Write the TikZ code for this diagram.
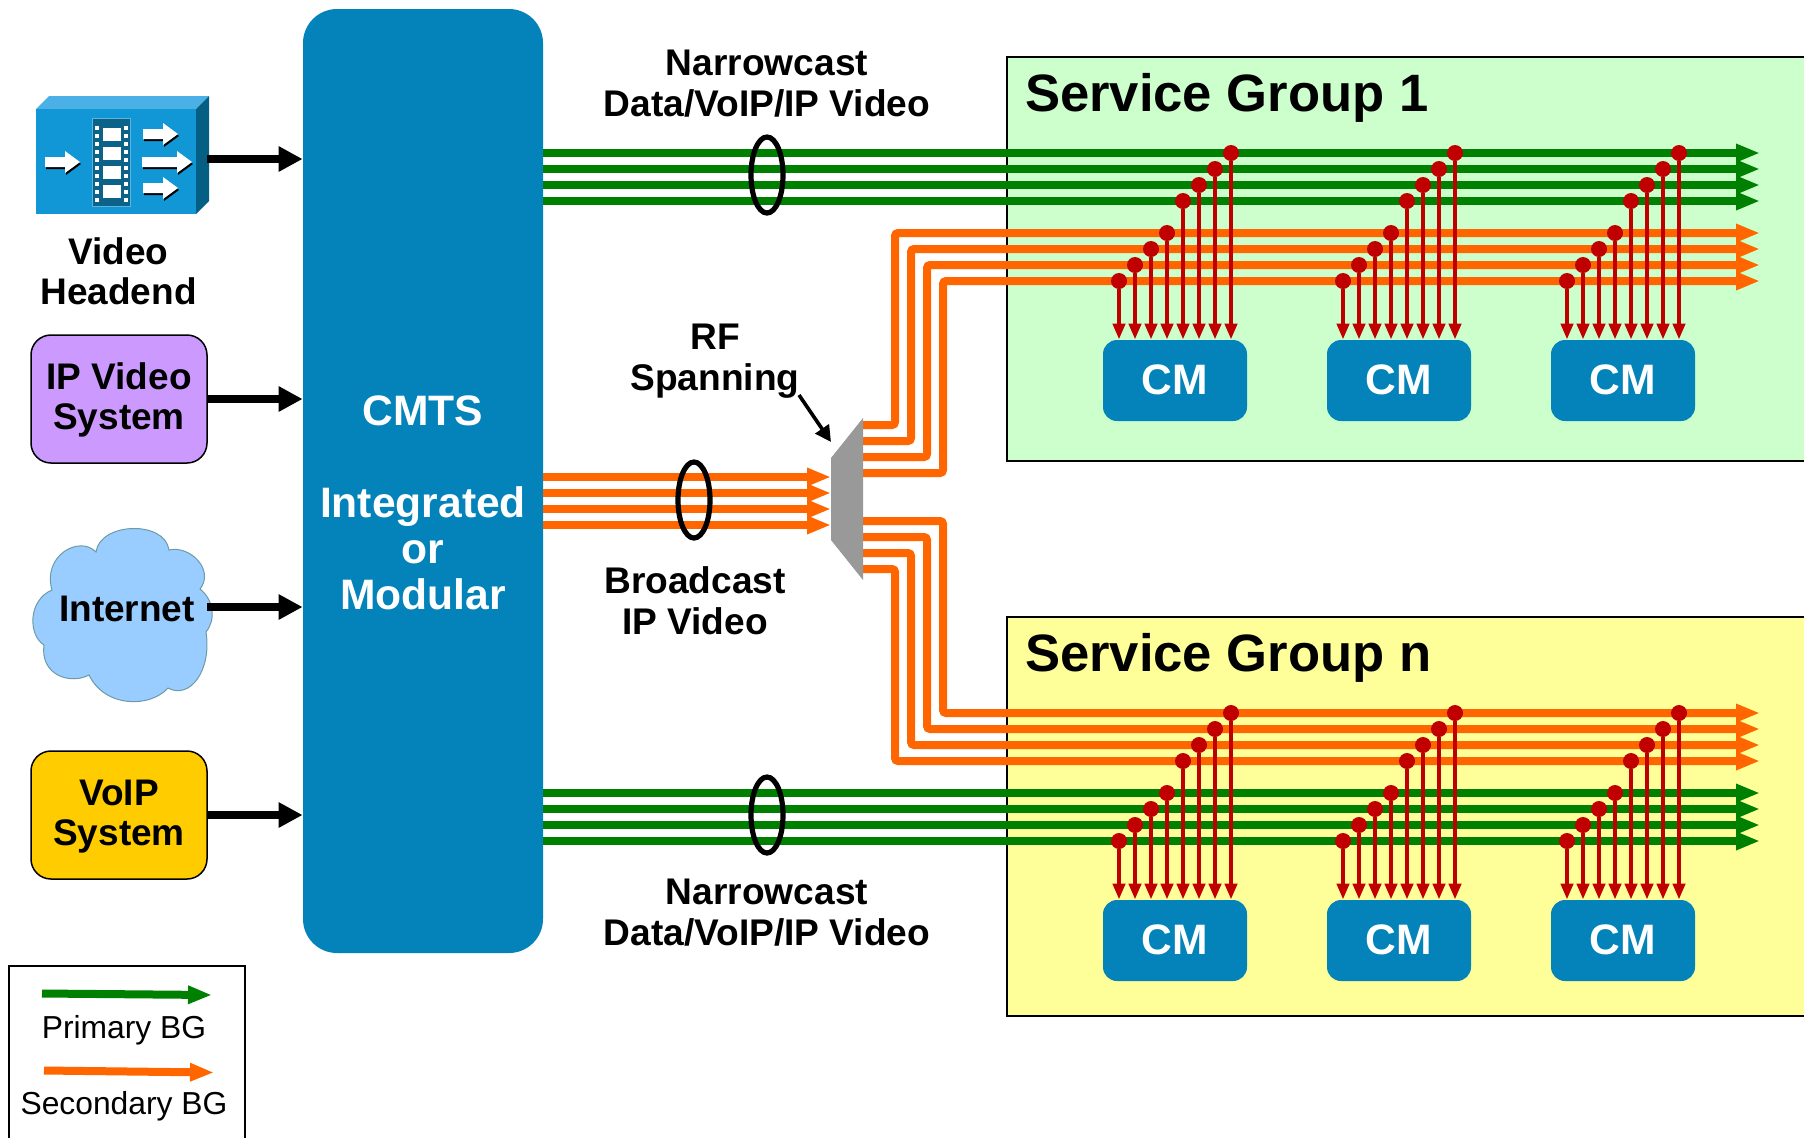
\documentclass[tikz,border=0pt]{standalone}
\usepackage{fontspec}
\setmainfont{Liberation Sans}
\usetikzlibrary{arrows.meta}
\definecolor{cmtsblue}{HTML}{0383B9}
\definecolor{busgreen}{HTML}{008000}
\definecolor{busorange}{HTML}{FF6600}
\definecolor{tapred}{HTML}{C00000}
\tikzset{
  greenbus/.style={line width=4pt,busgreen,-{Triangle[length=12pt,width=8.5pt]}},
  orangebus/.style={line width=4pt,busorange,rounded corners=1.5pt,-{Triangle[length=12pt,width=8.5pt]}},
  feed/.style={line width=4pt,black,-{Triangle[length=12pt,width=12pt]}},
  tap/.style={line width=2pt,tapred,-{Triangle[length=8pt,width=6pt]}},
  tapdot/.style={circle,fill=tapred,minimum size=8pt,inner sep=0pt},
  cmbox/.style={fill=cmtsblue,rounded corners=7pt,minimum width=72pt,minimum height=40.5pt,text=white,font=\bfseries\fontsize{21.3}{23}\selectfont},
  srcbox/.style={draw=black,line width=0.75pt,rounded corners=10pt,minimum width=88pt,minimum height=64pt,align=center,font=\bfseries\fontsize{18.5}{20}\selectfont},
  lbl/.style={align=center,font=\bfseries\fontsize{18.55}{20.5}\selectfont},
  grouplbl/.style={anchor=west,font=\bfseries\fontsize{26.3}{28}\selectfont},
  bundle/.style={draw=black,line width=2.6pt},
  legendlbl/.style={font=\fontsize{15.9}{17}\selectfont}
}
\begin{document}
\begin{tikzpicture}[x=0.5pt,y=-0.5pt]
  \useasboundingbox (0,0) rectangle (1804,1137);
  % service groups
  \draw[line width=0.75pt,fill={rgb,255:red,204;green,255;blue,204}] (1007,57) rectangle (1815,461);
  \draw[line width=0.75pt,fill={rgb,255:red,255;green,255;blue,153}] (1007,617) rectangle (1815,1016);
  \node[grouplbl] (sg1) at (1018,98) {Service Group 1};
  \node[grouplbl] (sgn) at (1018,658) {Service Group n};
  % cmts
  \node[fill=cmtsblue,rounded corners=17pt,minimum width=120pt,minimum height=472pt] (cmts) at (423,481) {};
  \node[align=center,text=white,font=\bfseries\fontsize{21.3}{23}\selectfont] (cmtstext) at (423,502.5) {CMTS\\[23pt]Integrated\\or\\Modular};
  % video headend
  \fill[fill={rgb,255:red,75;green,176;blue,230}] (36,109) -- (49,96) -- (209,96) -- (196,109) -- cycle;
  \fill[fill={rgb,255:red,5;green,95;blue,133}] (196,109) -- (209,96) -- (209,201) -- (196,214) -- cycle;
  \node[fill={rgb,255:red,17;green,150;blue,214},minimum width=80pt,minimum height=52.5pt] (headend) at (116,161.5) {};
  \draw[fill={rgb,255:red,12;green,98;blue,136},draw={rgb,255:red,90;green,180;blue,220},line width=0.5pt] (92,118) rectangle (130,206);
  \foreach \y in {128,147,166,185} \fill[white] (103,\y) rectangle (121,{\y+13});
  \foreach \y in {126,134,142,150,158,166,174,182,190,198} {
    \fill[white] (95,\y) rectangle (99,{\y+4});
    \fill[white] (124,\y) rectangle (128,{\y+4});
  }
  \foreach \xa/\xb/\ya in {45/80/162,143/178/134,142/192/162,143/178/188} {
    \fill[black] ({\xa+1},{\ya-3}) -- ({\xb-14},{\ya-3}) -- ({\xb-14},{\ya-9}) -- ({\xb+1},{\ya+2}) -- ({\xb-14},{\ya+13}) -- ({\xb-14},{\ya+7}) -- ({\xa+1},{\ya+7}) -- cycle;
    \fill[white] (\xa,{\ya-5}) -- ({\xb-15},{\ya-5}) -- ({\xb-15},{\ya-11}) -- (\xb,\ya) -- ({\xb-15},{\ya+11}) -- ({\xb-15},{\ya+5}) -- (\xa,{\ya+5}) -- cycle;
  }
  \node[align=center,font=\bfseries\fontsize{18.5}{20}\selectfont] (headendlbl) at (118.5,271) {Video\\Headend};
  % sources
  \node[srcbox,fill={rgb,255:red,204;green,153;blue,255}] (ipvideo) at (119,399) {\rule{0pt}{14.5pt}IP Video\\System};
  \node[srcbox,fill={rgb,255:red,255;green,204;blue,0}] (voip) at (119,815) {\rule{0pt}{14.5pt}VoIP\\System};
  \draw[fill={rgb,255:red,153;green,204;blue,255},draw={rgb,255:red,108;green,154;blue,168},line width=0.5pt]
    (96,552) .. controls (100,522) and (165,520) .. (169,550)
    .. controls (190,545) and (215,570) .. (200,589)
    .. controls (214,600) and (216,620) .. (206,632)
    .. controls (212,670) and (190,700) .. (168,688)
    .. controls (150,708) and (105,708) .. (89,675)
    .. controls (70,685) and (40,675) .. (44,645)
    .. controls (28,635) and (28,600) .. (52,590)
    .. controls (42,555) and (80,535) .. (96,552) -- cycle;
  \node[font=\bfseries\fontsize{18.5}{20}\selectfont] (internet) at (127,609) {Internet};
  \coordinate (headendout) at (207,159);
  \coordinate (internetout) at (207,607);
  \draw[feed] (headendout) -- (headendout -| cmts.west);
  \draw[feed] (ipvideo.east) -- (ipvideo.east -| cmts.west);
  \draw[feed] (internetout) -- (internetout -| cmts.west);
  \draw[feed] (voip.east) -- (voip.east -| cmts.west);
  % bus lines
  \coordinate (busend) at (1760,0);
  \coordinate (splleft) at (831,0);
  \coordinate (splright) at (863,0);
  \foreach \y in {153,169,185,201,793,809,825,841}
    \draw[greenbus] (cmts.east |- 0,\y) -- (busend |- 0,\y);
  \foreach \y in {477,493,509,525}
    \draw[orangebus] (cmts.east |- 0,\y) -- (splleft |- 0,\y);
  \foreach \ya/\xa/\yb in {425/895/233,441/911/249,457/927/265,473/943/281,521/943/713,537/927/729,553/911/745,569/895/761}
    \draw[orangebus] (splright |- 0,\ya) -- (\xa,\ya) -- (\xa,\yb) -- (busend |- 0,\yb);
  \fill[fill={rgb,255:red,153;green,153;blue,153}] (831,458) -- (863,418) -- (863,580) -- (831,540) -- cycle;
  % bundles
  \draw[bundle] (767,175) ellipse [x radius=16,y radius=38];
  \draw[bundle] (694,500) ellipse [x radius=16,y radius=38];
  \draw[bundle] (767,815) ellipse [x radius=16,y radius=38];
  % cable modems
  \foreach \g/\xs in {a/0,b/224,c/448} {
    \node[cmbox] (cmtop\g) at ({1175+\xs},380.5) {\raisebox{1pt}{CM}};
    \node[cmbox] (cmbot\g) at ({1175+\xs},940.5) {\raisebox{1pt}{CM}};
    \foreach \i/\yt/\yb in {0/281/841,1/265/825,2/249/809,3/233/793,4/201/761,5/185/745,6/169/729,7/153/713} {
      \node[tapdot] (dottop\g\i) at ({1119+\xs+16*\i},\yt) {};
      \node[tapdot] (dotbot\g\i) at ({1119+\xs+16*\i},\yb) {};
      \draw[tap] (dottop\g\i) -- (dottop\g\i |- cmtop\g.north);
      \draw[tap] (dotbot\g\i) -- (dotbot\g\i |- cmbot\g.north);
    }
  }
  % labels
  \node[lbl] (nctop) at (767,84) {Narrowcast\\Data/VoIP/IP Video};
  \node[lbl] (ncbot) at (767,913) {Narrowcast\\Data/VoIP/IP Video};
  \node[lbl] (bcast) at (695,601) {Broadcast\\IP Video};
  \node[lbl] (rfspan) at (715,361) {RF\\Spanning};
  \coordinate (spltip) at (831,442);
  \draw[line width=1.8pt,-{Triangle[length=8pt,width=8pt]}] (799,395) -- (spltip);
  % legend
  \draw[line width=0.75pt] (9,966) rectangle (245,1145);
  \coordinate (lgga) at (42,993.5);
  \coordinate (lggb) at (212,995);
  \coordinate (lgoa) at (44,1070.5);
  \coordinate (lgob) at (214,1072.5);
  \draw[greenbus] (lgga) -- (lggb);
  \draw[orangebus] (lgoa) -- (lgob);
  \node[legendlbl] (lgprimary) at (124,1030) {Primary BG};
  \node[legendlbl] (lgsecondary) at (124,1106) {Secondary BG};
\end{tikzpicture}
\end{document}
